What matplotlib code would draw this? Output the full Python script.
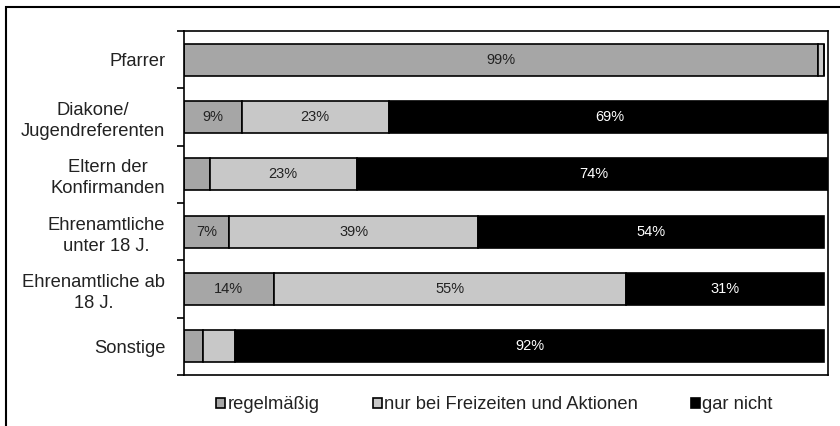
import numpy as np
import matplotlib.pyplot as plt
from matplotlib.patches import Rectangle

plt.rcParams['font.family'] = ['Liberation Sans', 'DejaVu Sans']

categories = ['Pfarrer', 'Diakone/\nJugendreferenten', 'Eltern der\nKonfirmanden',
              'Ehrenamtliche\nunter 18 J.', 'Ehrenamtliche ab\n18 J.', 'Sonstige']
regelmaessig = [99, 9, 4, 7, 14, 3]
freizeiten = [1, 23, 23, 39, 55, 5]
gar_nicht = [0, 69, 74, 54, 31, 92]
series_names = ['regelmäßig', 'nur bei Freizeiten und Aktionen', 'gar nicht']
colors = ['#a6a6a6', '#c8c8c8', '#000000']
text_colors = ['#222222', '#222222', 'white']

fig = plt.figure(figsize=(8.4, 4.26), dpi=100)
ax = fig.add_axes([184/840, 51/426, 644/840, 344/426])

# outer frame (only left and top edges are visible in the picture)
fig.patches.append(Rectangle((6/840, -0.2), 1.5, 0.2 + 419/426, transform=fig.transFigure,
                             fill=False, edgecolor='black', linewidth=1.5))

y = np.arange(len(categories))
left = np.zeros(len(categories))
for vals, name, c, tc in zip([regelmaessig, freizeiten, gar_nicht], series_names, colors, text_colors):
    vals = np.array(vals, dtype=float)
    ax.barh(y, vals, left=left, height=0.56, color=c, edgecolor='black', linewidth=1.2, label=name)
    for yi, l, v in zip(y, left, vals):
        if v > 5:
            ax.text(l + v / 2, yi, f'{int(v)}%', ha='center', va='center', fontsize=10.5, color=tc)
    left += vals

ax.set_xlim(0, 100.6)
ax.set_ylim(len(categories) - 0.5, -0.5)
ax.set_yticks(y)
ax.set_yticklabels(categories, fontsize=13.2, color='#222222', multialignment='center',
                   linespacing=1.3)
ax.set_yticks(np.arange(-0.5, len(categories)), minor=True)
ax.tick_params(axis='y', which='major', length=0, pad=13.5)
ax.tick_params(axis='y', which='minor', length=5, width=1.2, direction='out')
ax.set_xticks([])
for s in ax.spines.values():
    s.set_linewidth(1.2)

ax.legend(loc='center', bbox_to_anchor=(0.482, -0.087), ncol=3, frameon=False,
          fontsize=13.2, handlelength=0.5, handleheight=0.5, handletextpad=0.12,
          columnspacing=2.9, labelcolor='#222222')

fig.savefig('out.png', dpi=100)
